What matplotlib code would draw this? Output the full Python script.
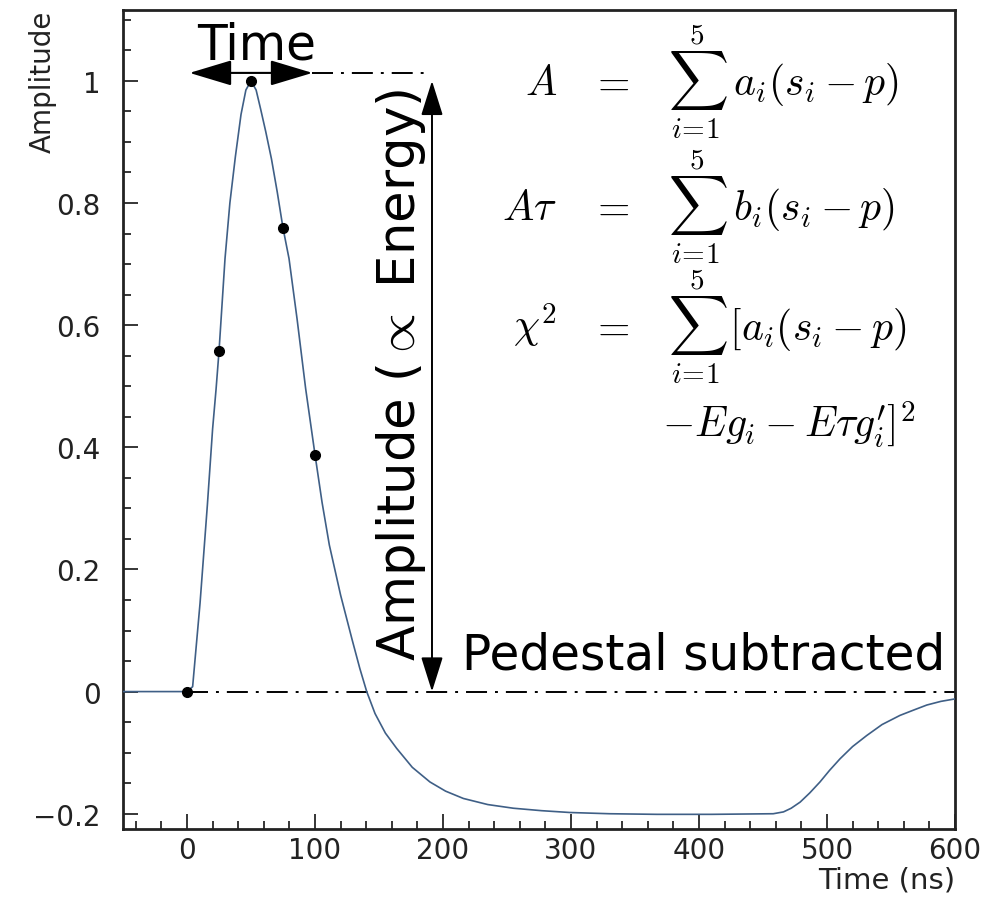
import matplotlib
matplotlib.use('Agg')
import matplotlib.pyplot as plt
from matplotlib.ticker import MultipleLocator

plt.rcParams['font.family'] = ['DejaVu Sans']
plt.rcParams['mathtext.fontset'] = 'cm'

# shaped pulse after pedestal subtraction (time in ns, normalised amplitude)
pulse_t = [-50, 0, 4.4, 10.2, 15.9, 20, 22.7, 25, 29.7, 33.5, 37.8, 42.2, 46, 50,
           54, 57.5, 61.5, 66, 70.5, 75, 79.7, 86, 92.7, 100, 105.5, 111.2, 120,
           129, 135, 140.4, 146.9, 155, 163.8, 176, 189.8, 202, 215.9, 235, 255,
           277, 299.2, 330, 367, 410, 458, 466, 472, 479, 486.5, 494.5, 502,
           510.2, 520, 531, 543, 557, 568, 578, 589, 600]
pulse_amp = [0.0, 0.0, 0.008, 0.145, 0.305, 0.43, 0.495, 0.557, 0.709, 0.80, 0.876,
             0.945, 0.985, 1.0, 0.985, 0.954, 0.917, 0.872, 0.818, 0.759, 0.709,
             0.61, 0.496, 0.388, 0.31, 0.24, 0.158, 0.085, 0.038, 0.0, -0.036,
             -0.068, -0.093, -0.124, -0.148, -0.163, -0.175, -0.185, -0.191,
             -0.195, -0.198, -0.2, -0.201, -0.201, -0.2, -0.197, -0.191, -0.181,
             -0.166, -0.148, -0.129, -0.11, -0.09, -0.072, -0.054, -0.039, -0.03,
             -0.022, -0.016, -0.012]

# the five digitised samples
sample_t = [0, 25, 50, 75, 100]
sample_amp = [0.0, 0.557, 1.0, 0.759, 0.388]

x_ticks = [0, 100, 200, 300, 400, 500, 600]
y_ticks = [-0.2, 0, 0.2, 0.4, 0.6, 0.8, 1.0]
y_tick_labels = ['\u22120.2', '0', '0.2', '0.4', '0.6', '0.8', '1']

W, H = 996, 903


def fig_xy(px, py):
    # pixel position (from top-left) -> figure fraction
    return px / W, 1 - py / H


fig = plt.figure(figsize=(W / 100, H / 100), dpi=100)
ax = fig.add_axes([123 / W, 73 / H, 832 / W, 819 / H])

ax.plot(pulse_t, pulse_amp, color='#3f5f86', lw=1.2, zorder=3)
ax.plot(sample_t, sample_amp, 'o', color='black', ms=7, zorder=4)

# reference levels
dashdot = (0, (10.8, 4.1, 1.5, 4.1))
ax.plot([0, 600], [0, 0], color='black', lw=1.4, linestyle=dashdot, zorder=2)
ax.plot([98, 190], [1.013, 1.013], color='black', lw=1.4, linestyle=dashdot, zorder=2)

# time and amplitude arrows
ax.annotate('', xy=(2, 1.013), xytext=(98, 1.013),
            arrowprops=dict(arrowstyle='<|-|>,head_length=1.33,head_width=0.4',
                            mutation_scale=20, lw=1.5, color='black',
                            shrinkA=0, shrinkB=0))
ax.annotate('', xy=(191.4, 0), xytext=(191.4, 1.0),
            arrowprops=dict(arrowstyle='<|-|>,head_length=1.08,head_width=0.34',
                            mutation_scale=20, lw=1.4, color='black',
                            shrinkA=0, shrinkB=0))

ax.text(54.7, 1.036, 'Time', fontsize=35, ha='center', va='baseline')
ax.text(214.8, 0.0376, 'Pedestal subtracted', fontsize=35, ha='left', va='baseline')
ax.text(178.1, 0.52, r'Amplitude ($\propto$ Energy)', fontsize=37, rotation=90,
        rotation_mode='anchor', ha='center', va='baseline')

# axes, ROOT style
ax.set_xlim(-50, 600)
ax.set_ylim(-0.225, 1.116)
ax.set_xticks(x_ticks)
ax.set_yticks(y_ticks)
ax.set_yticklabels(y_tick_labels)
ax.xaxis.set_minor_locator(MultipleLocator(20))
ax.yaxis.set_minor_locator(MultipleLocator(0.05))
ax.tick_params(which='both', direction='in', top=False, right=False,
               labelsize=20, labelcolor='#222222', width=1.1)
ax.tick_params(which='major', length=11)
ax.tick_params(which='minor', length=6)
ax.tick_params(axis='y', pad=16)
ax.tick_params(axis='x', pad=5)
for s in ax.spines.values():
    s.set_linewidth(2)
    s.set_color('#222222')

ax.set_xlabel('Time (ns)', fontsize=21, loc='right', color='#222222')
ax.xaxis.set_label_coords(1.0, -0.045)
ax.set_ylabel('Amplitude', fontsize=20, loc='top', color='#222222')
ax.yaxis.set_label_coords(-0.08, 1.0)

# amplitude, time and chi-square estimators
eq_size = 30
lhs = [r'$A$', r'$A\tau$', r'$\chi^2$']
rhs = [r'$\sum_{i\!=\!1}^{5}\;a_i(s_i - p)$',
       r'$\sum_{i\!=\!1}^{5}\;b_i(s_i - p)$',
       r'$\sum_{i\!=\!1}^{5}\,[a_i(s_i - p)$']
baselines = [95, 220, 340]
for l, r, b in zip(lhs, rhs, baselines):
    fig.text(*fig_xy(557, b), l, fontsize=eq_size, ha='right', va='baseline')
    fig.text(*fig_xy(610, b), r'$=$', fontsize=eq_size, ha='center', va='baseline')
    fig.text(*fig_xy(668, b), r, fontsize=eq_size, ha='left', va='baseline')
fig.text(*fig_xy(662, 437), r"$-Eg_i - E\tau g_i^{\prime}]^2$", fontsize=eq_size,
         ha='left', va='baseline')

fig.savefig('out.png', dpi=100)
